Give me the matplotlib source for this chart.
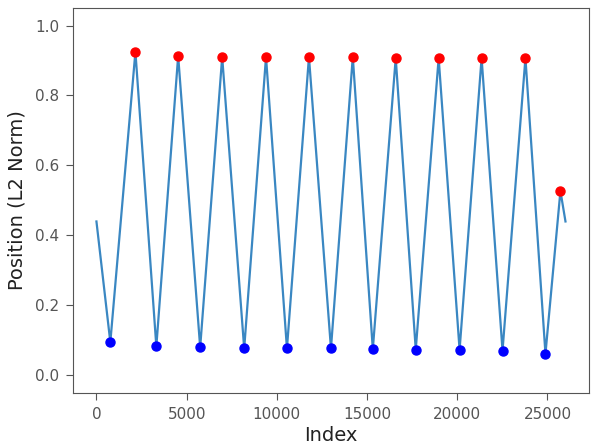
import matplotlib
matplotlib.use("Agg")
import matplotlib.pyplot as plt

# curve endpoints
start_idx, start_val = 0, 0.44
end_idx, end_val = 26000, 0.44

# local maxima (red) and minima (blue)
max_idx = [2160, 4530, 6970, 9400, 11780, 14210, 16590, 18970, 21350, 23780, 25720]
max_val = [0.925, 0.913, 0.910, 0.910, 0.910, 0.910, 0.907, 0.907, 0.907, 0.907, 0.527]
min_idx = [770, 3320, 5750, 8190, 10560, 13000, 15320, 17700, 20130, 22510, 24890]
min_val = [0.095, 0.083, 0.080, 0.077, 0.077, 0.077, 0.075, 0.074, 0.073, 0.071, 0.062]

# line passes through start, alternating extrema, end
line_idx = [start_idx]
line_val = [start_val]
for a, b, c, d in zip(min_idx, min_val, max_idx, max_val):
    line_idx += [a, c]
    line_val += [b, d]
line_idx.append(end_idx)
line_val.append(end_val)

fig = plt.figure(figsize=(5.91, 4.45), dpi=100)
ax = fig.add_axes([0.1235, 0.117, 0.873, 0.865])
ax.plot(line_idx, line_val, color='#3a87c2', lw=1.6)
ax.plot(max_idx, max_val, 'o', color='red', ms=6.5)
ax.plot(min_idx, min_val, 'o', color='blue', ms=6.5)
ax.set_xlim(-1300, 27300)
ax.set_ylim(-0.05, 1.05)
ax.set_xticks([0, 5000, 10000, 15000, 20000, 25000])
ax.set_yticks([0.0, 0.2, 0.4, 0.6, 0.8, 1.0])
ax.tick_params(labelsize=11, colors='#555555', length=5, pad=5)
ax.set_xlabel('Index', fontsize=14, labelpad=3, color='#222222')
ax.set_ylabel('Position (L2 Norm)', fontsize=14, labelpad=6, color='#222222')
for s in ax.spines.values():
    s.set_color('#555555')

fig.savefig('out.png', dpi=100)
